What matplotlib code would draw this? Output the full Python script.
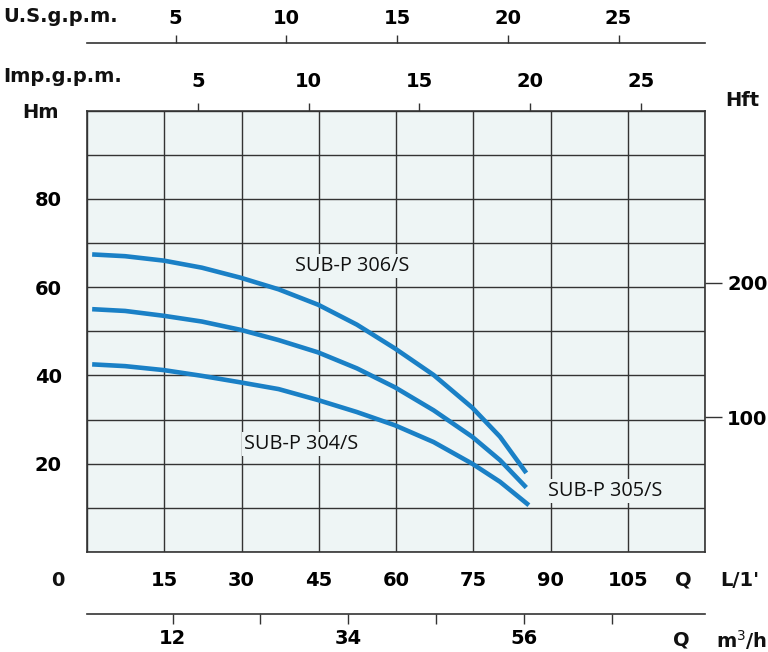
import matplotlib
matplotlib.use("Agg")
import matplotlib.pyplot as plt
from matplotlib import font_manager as fm

# ---------------- data ----------------
q_lpm_ticks = [15, 30, 45, 60, 75, 90, 105]
h_m_ticks = [20, 40, 60, 80]
h_ft_ticks = [100, 200]
usgpm_ticks = [5, 10, 15, 20, 25]
impgpm_ticks = [5, 10, 15, 20, 25]
m3h_ticks = [12, 23, 34, 45, 56, 67]
m3h_labels = ["12", "", "34", "", "56", ""]

q306 = [1, 7.4, 14.9, 22.3, 29.9, 37.2, 44.9, 52.4, 59.8, 67.3, 74.8, 80.2, 85.3]
h306 = [67.4, 67.0, 66.0, 64.4, 62.1, 59.5, 56.0, 51.5, 46.1, 40.1, 32.7, 26.1, 17.9]
q305 = [1, 7.4, 14.9, 22.3, 29.9, 37.2, 44.9, 52.4, 59.8, 67.3, 74.8, 80.2, 85.3]
h305 = [55.0, 54.6, 53.5, 52.2, 50.3, 48.0, 45.2, 41.6, 37.3, 32.1, 26.1, 20.8, 14.6]
q304 = [1, 7.4, 14.9, 22.3, 29.9, 37.2, 44.9, 52.4, 59.8, 67.3, 74.8, 80.2, 85.8]
h304 = [42.5, 42.1, 41.2, 39.9, 38.4, 36.9, 34.4, 31.7, 28.7, 24.9, 20.0, 15.9, 10.6]
curve_names = ["SUB-P 306/S", "SUB-P 305/S", "SUB-P 304/S"]

# ---------------- style ----------------
W, H = 768, 652
BG = "#eef5f5"
BLUE = "#1a80c6"
DARK = "#333333"

NUMFONT = ["DejaVu Sans"]
LBLFONT = ["Open Sans", "DejaVu Sans"]
NSIZE = 14
NUMKW = dict(family=NUMFONT, weight="bold", fontsize=NSIZE, color="#111111")
NUMFP = fm.FontProperties(family=NUMFONT, weight="bold", size=NSIZE)


def fx(x):
    return x / W


def fy(y):
    return 1 - y / H


fig = plt.figure(figsize=(W / 100, H / 100), dpi=100)
L, R, T, B = 87, 705, 110.5, 552
ax = fig.add_axes([fx(L), fy(B), fx(R) - fx(L), fy(T) - fy(B)])
ax.set_facecolor(BG)
ax.set_xlim(0, 120)
ax.set_ylim(0, 100)
ax.set_xticks(list(range(0, 121, 15)))
ax.set_xticklabels([str(v) if v in q_lpm_ticks else "" for v in range(0, 121, 15)])
ax.set_yticks(list(range(0, 101, 10)))
ax.set_yticklabels([str(v) if v in h_m_ticks else "" for v in range(0, 101, 10)])
ax.grid(True, color=DARK, lw=1.0)
ax.set_axisbelow(True)
for s in ax.spines.values():
    s.set_color(DARK)
    s.set_linewidth(1.2)
ax.tick_params(axis="x", length=0, pad=14)
ax.tick_params(axis="y", length=0, pad=18)
for lab in ax.get_xticklabels() + ax.get_yticklabels():
    lab.set_fontproperties(NUMFP)

for q, h in [(q306, h306), (q305, h305), (q304, h304)]:
    ax.plot(q, h, color=BLUE, lw=3.3, solid_capstyle="butt", solid_joinstyle="round", zorder=3)

lbl_pos = [(40.4, 64.7), (89.6, 13.8), (30.5, 24.4)]
for name, (x, y) in zip(curve_names, lbl_pos):
    ax.text(x, y, name, family=LBLFONT, fontsize=14.3, color="#111111", va="center", ha="left",
            bbox=dict(facecolor=BG, edgecolor="none", pad=1.5), zorder=4)

# right Hft axis
ax2 = ax.twinx()
ax2.set_ylim(0, 100 / 0.3048)
ax2.set_yticks(h_ft_ticks)
for s in ax2.spines.values():
    s.set_visible(False)
ax2.tick_params(axis="y", length=12, width=1.0, color=DARK, pad=4)
for lab in ax2.get_yticklabels():
    lab.set_fontproperties(NUMFP)

# Imp gpm axis on top of plot
ax3 = ax.twiny()
ax3.set_xlim(0, 27.9)
ax3.set_xticks(impgpm_ticks)
for s in ax3.spines.values():
    s.set_visible(False)
ax3.tick_params(axis="x", length=6, width=1.0, color=DARK, pad=8)
for lab in ax3.get_xticklabels():
    lab.set_fontproperties(NUMFP)

# US gpm axis (line at y=43.5)
yus = 43.5
ax4 = fig.add_axes([fx(L), fy(yus), fx(R) - fx(L), 0.0001])
ax4.set_xlim(1.0, 28.9)
ax4.set_ylim(0, 1)
ax4.set_yticks([])
ax4.set_facecolor("none")
for k, s in ax4.spines.items():
    s.set_visible(k == "top")
    s.set_color(DARK)
    s.set_linewidth(1.2)
ax4.xaxis.set_ticks_position("top")
ax4.xaxis.set_label_position("top")
ax4.set_xticks(usgpm_ticks)
ax4.tick_params(axis="x", length=6, width=1.0, color=DARK, pad=5)
for lab in ax4.get_xticklabels():
    lab.set_fontproperties(NUMFP)

# m3/h axis (line at y=614)
ym3 = 614
ax5 = fig.add_axes([fx(L), fy(ym3), fx(R) - fx(L), 0.0001])
ax5.set_xlim(1.29, 78.7)
ax5.set_ylim(0, 1)
ax5.set_yticks([])
ax5.set_facecolor("none")
for k, s in ax5.spines.items():
    s.set_visible(k == "bottom")
    s.set_color(DARK)
    s.set_linewidth(1.2)
ax5.set_xticks(m3h_ticks)
ax5.set_xticklabels(m3h_labels)
ax5.tick_params(axis="x", length=7, width=1.0, color=DARK, pad=4)
for lab in ax5.get_xticklabels():
    lab.set_fontproperties(NUMFP)

# free texts
fig.text(fx(3), fy(17), "U.S.g.p.m.", ha="left", va="center", **NUMKW)
fig.text(fx(3), fy(77), "Imp.g.p.m.", ha="left", va="center", **NUMKW)
fig.text(fx(41), fy(113), "Hm", ha="center", va="center", **NUMKW)
fig.text(fx(742), fy(101), "Hft", ha="center", va="center", **NUMKW)
fig.text(fx(58), fy(580), "0", ha="center", va="center", **NUMKW)
fig.text(fx(683), fy(580), "Q", ha="center", va="center", **NUMKW)
fig.text(fx(740), fy(580), "L/1'", ha="center", va="center", **NUMKW)
fig.text(fx(681), fy(640), "Q", ha="center", va="center", **NUMKW)
fig.text(fx(742), fy(640), "m$^3$/h", ha="center", va="center", **NUMKW)

fig.savefig("out.png", dpi=100)
